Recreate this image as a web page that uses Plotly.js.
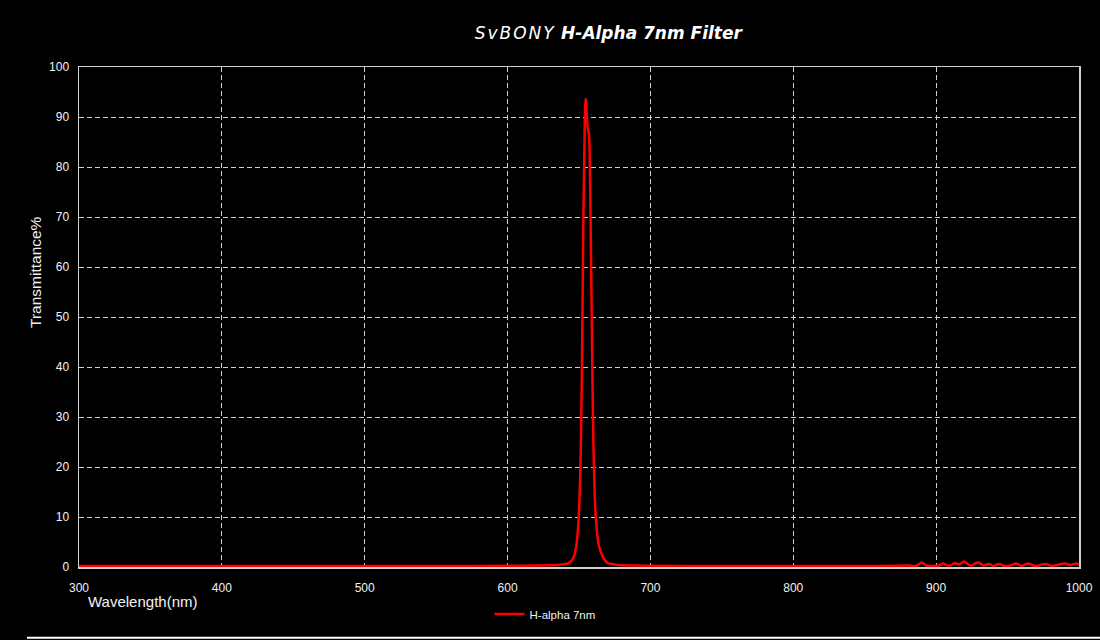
<!DOCTYPE html>
<html>
<head>
<meta charset="utf-8">
<script src="https://cdn.plot.ly/plotly-3.0.1.min.js"></script>
<style>html,body{margin:0;padding:0;background:#000;}#chart{width:1100px;height:640px;}</style>
</head>
<body>
<div id="chart"></div>
<script>
const wavelength = [300, 350, 400, 450, 500, 550, 600, 620, 630, 638, 642, 644, 646, 647, 648, 649, 650, 651, 652, 653, 654, 654.5, 655, 655.5, 656, 657, 657.5, 658, 658.5, 659, 659.5, 660, 661, 662, 663, 664, 666, 668, 670, 675, 680, 690, 700, 750, 800, 850, 870, 880, 886, 890, 893, 897, 902, 905, 907, 910, 913, 916, 919.5, 922, 925, 928, 930, 933, 937, 940, 944, 948, 952, 956, 960, 963, 965, 967, 971, 974, 977, 981, 986, 990, 994, 998, 1000];
const transmittance = [0.2, 0.2, 0.2, 0.2, 0.2, 0.2, 0.25, 0.3, 0.35, 0.5, 0.7, 1.0, 1.8, 2.6, 4.0, 6.5, 11, 20, 38, 68, 88, 93.6, 93, 90, 88, 86.5, 82, 72, 60, 48, 36, 26, 14, 9, 6, 4.2, 2.5, 1.4, 0.8, 0.5, 0.35, 0.3, 0.25, 0.2, 0.2, 0.2, 0.25, 0.3, 0.2, 0.9, 0.3, 0.2, 0.3, 0.7, 0.4, 0.3, 0.8, 0.5, 1.1, 0.6, 0.3, 0.8, 0.9, 0.3, 0.6, 0.2, 0.6, 0.2, 0.3, 0.7, 0.2, 0.6, 0.7, 0.4, 0.2, 0.5, 0.6, 0.2, 0.5, 0.7, 0.4, 0.7, 0.4];
const seriesName = 'H-alpha 7nm';
const xTicks = [300, 400, 500, 600, 700, 800, 900, 1000];
const yTicks = [0, 10, 20, 30, 40, 50, 60, 70, 80, 90, 100];

const tickFont = {family: 'Liberation Sans, Arial, sans-serif', size: 12, color: '#f2f2f2'};
const gridColor = '#d0d0d0';

Plotly.newPlot('chart', [{
  x: wavelength,
  y: transmittance,
  type: 'scatter',
  mode: 'lines',
  name: seriesName,
  line: {color: '#ff0000', width: 2.5, shape: 'spline', smoothing: 0.6}
}], {
  width: 1100,
  height: 640,
  paper_bgcolor: '#000',
  plot_bgcolor: '#000',
  margin: {l: 79, r: 21, t: 67, b: 71},
  title: {
    text: '<i><span style="font-weight:normal;letter-spacing:2px">SvBONY</span> <b>H-Alpha 7nm Filter</b></i>',
    x: 0.553, xanchor: 'center', y: 0.948, yanchor: 'middle',
    font: {family: 'DejaVu Sans, Arial, sans-serif', size: 17, color: '#ffffff'}
  },
  xaxis: {
    range: [300, 1000],
    tickvals: xTicks,
    ticktext: xTicks.map(String),
    showgrid: true, gridcolor: gridColor, gridwidth: 1, griddash: '5px,3px',
    showline: true, linecolor: gridColor, linewidth: 1.5, mirror: true,
    zeroline: false, ticks: '', ticklabelstandoff: 9,
    tickfont: tickFont
  },
  yaxis: {
    range: [0, 100],
    tickvals: yTicks,
    ticktext: yTicks.map(String),
    showgrid: true, gridcolor: gridColor, gridwidth: 1, griddash: '5px,3px',
    showline: true, linecolor: gridColor, linewidth: 1.5, mirror: true,
    zeroline: false, ticks: '', ticklabelstandoff: 6,
    tickfont: tickFont
  },
  showlegend: true,
  legend: {
    orientation: 'h', x: 0.466, xanchor: 'center', y: -0.094, yanchor: 'middle',
    font: {family: 'Liberation Sans, Arial, sans-serif', size: 11.5, color: '#f2f2f2'},
    bgcolor: 'rgba(0,0,0,0)', itemwidth: 30
  },
  annotations: [
    {text: 'Transmittance%', xref: 'paper', yref: 'paper', x: -0.044, y: 0.59, xanchor: 'center', yanchor: 'middle',
     textangle: -90, showarrow: false, font: {family: 'Liberation Sans, Arial, sans-serif', size: 15.5, color: '#f2f2f2'}},
    {text: 'Wavelength(nm)', xref: 'paper', yref: 'paper', x: 0.007, y: -0.068, xanchor: 'left', yanchor: 'middle',
     showarrow: false, font: {family: 'Liberation Sans, Arial, sans-serif', size: 15, color: '#f2f2f2'}}
  ],
  shapes: [
    {type: 'line', xref: 'paper', yref: 'paper', x0: -0.052, x1: 1.03, y0: -0.1415, y1: -0.1415,
     line: {color: '#ffffff', width: 2}}
  ]
}, {displayModeBar: false, staticPlot: true});
</script>
</body>
</html>
